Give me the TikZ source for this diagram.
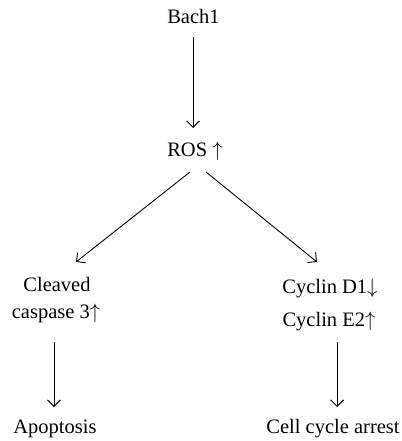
\documentclass[tikz,border=0pt]{standalone}
\usepackage{fontspec}
\setmainfont{Liberation Serif}
\usetikzlibrary{arrows.meta,calc}
\newcommand{\myup}{\ensuremath{\uparrow}}
\newcommand{\mydown}{\ensuremath{\downarrow}}
\begin{document}
\begin{tikzpicture}[x=1pt,y=1pt,
  lbl/.style={inner sep=0pt,outer sep=0pt,anchor=base,text height=14pt,text depth=4pt,
    font=\fontsize{20.5}{24}\selectfont},
  arr/.style={line width=0.9pt,-{Straight Barb[length=6.5pt,width=13pt,line width=0.9pt]}}]
\useasboundingbox (0,0) rectangle (401,-441);
\node[lbl] (bach) at (193.5,-24) {Bach1};
\node[lbl] (ros) at (195,-156) {ROS \myup};
\node[lbl] (clv) at (57,-291) {Cleaved};
\node[lbl] (casp) at (56,-318) {caspase 3\myup};
\node[lbl] (apo) at (55,-433) {Apoptosis};
\node[lbl] (cd1) at (330,-293) {Cyclin D1\mydown};
\node[lbl] (ce2) at (329,-326) {Cyclin E2\myup};
\node[lbl] (arrest) at (333,-433) {Cell cycle arrest};
\draw[arr] ($(bach.south)+(-0.5,-9)$) -- ($(ros.north)+(-2,14)$);
\draw[arr] ($(ros.south)+(-5,-12)$) -- ($(clv.north)+(19,15)$);
\draw[arr] ($(ros.south)+(11,-12)$) -- ($(cd1.north)+(-13,17)$);
\draw[arr] ($(casp.south)+(-2,-20)$) -- ($(apo.north)+(-1,12)$);
\draw[arr] ($(ce2.south)+(8,-12)$) -- ($(arrest.north)+(4,12)$);
\end{tikzpicture}
\end{document}
